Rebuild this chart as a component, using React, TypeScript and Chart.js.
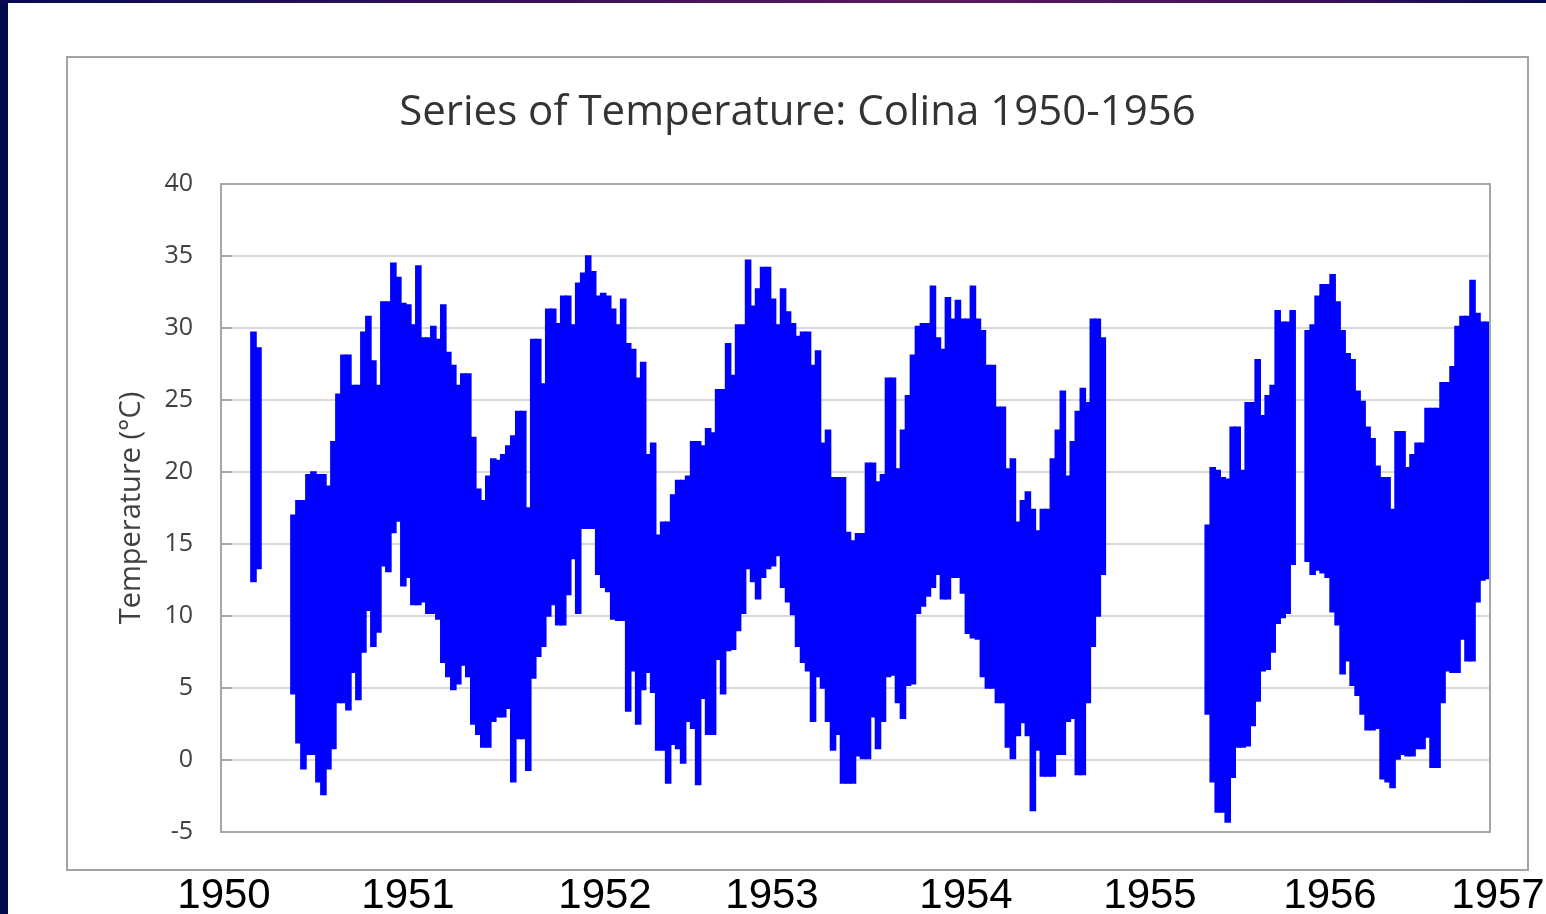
import React, { useEffect, useRef } from "react";
import { Chart, registerables } from "chart.js";

Chart.register(...registerables);

// ---------- data ----------
const chartTitle = "Series of Temperature: Colina 1950-1956";
const yAxisTitle = "Temperature (°C)";
const yMin = -5;
const yMax = 40;
const yStep = 5;
const yearLabels = ["1950", "1951", "1952", "1953", "1954", "1955", "1956", "1957"];

// upper envelope (daily maxima) per ~10-day period, null = no record
const highTemps: (number | null)[] = [
  null, null, null, null, null, null, 29.7, 28.6, null, null,
  null, null, null, null, 17.0, 18.0, 18.0, 19.8, 20.0, 19.8,
  19.8, 19.0, 22.1, 25.4, 28.1, 28.1, 26.0, 26.0, 29.7, 30.8,
  27.7, 26.0, 31.8, 31.8, 34.5, 33.5, 31.7, 31.6, 30.2, 34.3,
  29.3, 29.3, 30.1, 29.2, 31.6, 28.3, 27.4, 26.0, 26.8, 26.8,
  22.4, 18.8, 18.0, 19.7, 20.9, 20.8, 21.2, 21.8, 22.5, 24.2,
  24.2, 17.5, 29.2, 29.2, 26.1, 31.3, 31.3, 30.3, 32.2, 32.2,
  30.2, 33.1, 33.8, 35.0, 33.9, 32.2, 32.4, 32.2, 31.3, 30.2,
  32.0, 28.9, 28.5, 26.5, 27.6, 21.2, 22.0, 15.6, 16.5, 16.5,
  18.4, 19.4, 19.4, 19.7, 22.1, 22.1, 21.8, 23.0, 22.7, 25.7,
  25.7, 28.9, 26.7, 30.2, 30.2, 34.7, 31.5, 32.7, 34.2, 34.2,
  32.0, 30.2, 32.7, 31.1, 30.3, 29.4, 29.7, 29.7, 27.4, 28.4,
  22.0, 22.9, 19.6, 19.6, 19.6, 15.8, 15.2, 15.7, 15.7, 20.6,
  20.6, 19.3, 19.8, 26.5, 26.5, 20.2, 22.9, 25.3, 28.1, 30.1,
  30.3, 30.3, 32.9, 29.3, 28.5, 32.1, 30.6, 31.9, 30.6, 30.6,
  32.9, 30.6, 29.8, 27.4, 27.4, 24.5, 24.5, 20.2, 20.9, 16.5,
  18.0, 18.6, 17.4, 15.9, 17.4, 17.4, 20.9, 22.9, 25.6, 19.7,
  22.1, 24.2, 25.8, 24.8, 30.6, 30.6, 29.3, null, null, null,
  null, null, null, null, null, null, null, null, null, null,
  null, null, null, null, null, null, null, 16.3, 20.3, 20.1,
  19.6, 19.5, 23.1, 23.1, 20.1, 24.8, 24.8, 27.8, 23.9, 25.3,
  26.0, 31.2, 30.4, 30.4, 31.2, null, null, 29.8, 30.2, 32.2,
  33.0, 33.0, 33.7, 31.8, 29.8, 28.2, 27.8, 25.6, 24.9, 23.1,
  22.3, 20.4, 19.6, 19.6, 17.4, 22.8, 22.8, 20.3, 21.2, 22.0,
  22.0, 24.4, 24.4, 24.4, 26.2, 26.2, 27.3, 30.1, 30.8, 30.8,
  33.3, 31.0, 30.4, 30.4,
];

// lower envelope (daily minima) per period
const lowTemps: (number | null)[] = [
  null, null, null, null, null, null, 12.4, 13.3, null, null,
  null, null, null, null, 4.6, 1.2, -0.6, 0.4, 0.4, -1.5,
  -2.4, -0.6, 0.8, 4.0, 4.0, 3.5, 6.1, 4.2, 7.5, 10.4,
  7.9, 8.9, 13.5, 13.1, 15.8, 16.6, 12.1, 12.7, 10.8, 10.8,
  11.0, 10.2, 10.2, 9.8, 6.8, 5.8, 4.9, 5.3, 6.6, 5.8,
  2.5, 1.8, 0.9, 0.9, 2.7, 3.0, 3.0, 3.6, -1.5, 1.5,
  1.5, -0.7, 5.7, 7.2, 7.9, 10.0, 10.8, 9.4, 9.4, 11.5,
  14.0, 10.2, 16.1, 16.1, 16.1, 12.9, 12.0, 11.7, 9.8, 9.7,
  9.7, 3.4, 6.2, 2.5, 4.9, 6.1, 4.7, 0.7, 0.7, -1.6,
  1.1, 0.8, -0.2, 2.7, 2.2, -1.7, 4.3, 1.8, 1.8, 7.0,
  4.6, 7.6, 7.7, 9.0, 10.2, 13.3, 12.4, 11.2, 12.7, 13.3,
  13.5, 14.2, 12.0, 11.0, 10.1, 7.9, 6.8, 6.2, 2.7, 5.8,
  5.0, 2.7, 0.7, 1.8, -1.6, -1.6, -1.6, 0.3, 0.1, 0.1,
  3.0, 0.8, 2.7, 5.8, 5.9, 4.0, 2.9, 5.2, 5.3, 10.2,
  10.7, 11.4, 12.0, 12.9, 11.2, 11.2, 12.7, 12.7, 11.6, 8.8,
  8.5, 8.4, 5.8, 5.0, 5.0, 4.0, 4.0, 0.9, 0.1, 1.7,
  2.6, 1.7, -3.5, 0.7, -1.1, -1.1, -1.1, 0.4, 0.4, 2.7,
  2.9, -1.0, -1.0, 4.0, 7.9, 10.0, 12.9, null, null, null,
  null, null, null, null, null, null, null, null, null, null,
  null, null, null, null, null, null, null, 3.2, -1.5, -3.6,
  -3.6, -4.3, -1.2, 0.9, 0.9, 1.0, 2.4, 4.1, 6.2, 6.3,
  7.5, 9.5, 9.9, 10.2, 13.6, null, null, 13.8, 12.9, 13.2,
  13.0, 12.7, 10.3, 9.4, 6.0, 6.9, 5.2, 4.5, 3.2, 2.1,
  2.1, 2.2, -1.3, -1.5, -1.9, 0.0, 0.4, 0.3, 0.3, 0.8,
  0.8, 1.6, -0.5, -0.5, 4.0, 6.2, 6.1, 6.1, 8.4, 6.9,
  6.9, 11.0, 12.5, 12.6,
];

const periods = highTemps.map((_, i) => `P${i + 1}`);

// ---------- layout / style ----------
const W = 1546;
const H = 914;
const OUTER = { left: 67, top: 57, right: 1528, bottom: 870 };
const yearLabelCenters = [224, 408, 605, 772, 966, 1150, 1330, 1498];
const yearLabelBaseline = 908;
const SERIES_COLOR = "#0000ff";

const decorPlugin = {
  id: "decor",
  beforeDraw(chart: any) {
    const ctx = chart.ctx;
    ctx.save();
    ctx.fillStyle = "#ffffff";
    ctx.fillRect(0, 0, W, H);
    // left navy strip
    ctx.fillStyle = "#020b4c";
    ctx.fillRect(0, 0, 8, H);
    // top gradient rule
    const g = ctx.createLinearGradient(0, 0, W, 0);
    g.addColorStop(0, "#070b50");
    g.addColorStop(0.35, "#3a1257");
    g.addColorStop(0.6, "#5a1a5c");
    g.addColorStop(0.85, "#3d1258");
    g.addColorStop(1, "#020b4c");
    ctx.fillStyle = g;
    ctx.fillRect(0, 0, W, 3);
    // outer chart frame
    ctx.strokeStyle = "#a3a3a3";
    ctx.lineWidth = 2;
    ctx.strokeRect(OUTER.left, OUTER.top, OUTER.right - OUTER.left, OUTER.bottom - OUTER.top);
    ctx.restore();
  },
  afterDraw(chart: any) {
    const ctx = chart.ctx;
    const a = chart.chartArea;
    const ys = chart.scales.y;
    ctx.save();
    // inner tick marks
    ctx.strokeStyle = "#a6a6a6";
    ctx.lineWidth = 2;
    for (let v = yMin; v <= yMax; v += yStep) {
      const py = Math.round(ys.getPixelForValue(v));
      ctx.beginPath();
      ctx.moveTo(a.left, py);
      ctx.lineTo(a.left + 11, py);
      ctx.stroke();
    }
    // plot frame
    ctx.strokeRect(a.left, a.top, a.right - a.left, a.bottom - a.top);
    // year labels under the frame
    ctx.fillStyle = "#000000";
    ctx.font = "42px 'Liberation Sans', Arial, sans-serif";
    ctx.textAlign = "center";
    ctx.textBaseline = "alphabetic";
    yearLabels.forEach((t, i) => {
      ctx.fillText(t, yearLabelCenters[i], yearLabelBaseline);
    });
    ctx.restore();
  },
};

export default function App() {
  const ref = useRef<HTMLCanvasElement | null>(null);

  useEffect(() => {
    if (!ref.current) return;
    Chart.defaults.font.family = "'Open Sans', sans-serif";
    const chart = new Chart(ref.current, {
      type: "bar",
      data: {
        labels: periods,
        datasets: [
          {
            label: "Temperature",
            data: highTemps.map((h, i) =>
              h === null || lowTemps[i] === null ? null : [lowTemps[i] as number, h]
            ) as any,
            backgroundColor: SERIES_COLOR,
            borderColor: SERIES_COLOR,
            borderWidth: 0,
            inflateAmount: 0.8,
            barPercentage: 1,
            categoryPercentage: 1,
            yAxisID: "y",
          },
        ],
      },
      options: {
        responsive: false,
        maintainAspectRatio: false,
        animation: false,
        devicePixelRatio: 1,
        layout: { padding: { left: OUTER.left, right: W - OUTER.right, top: OUTER.top, bottom: 82 } },
        plugins: {
          legend: { display: false },
          tooltip: { enabled: false },
          title: {
            display: true,
            text: chartTitle,
            color: "#333333",
            font: { family: "'Open Sans', sans-serif", size: 42, weight: "normal", lineHeight: 1 },
            padding: { top: 35, bottom: 50 },
          },
        },
        scales: {
          x: { type: "category", display: false, offset: true },
          y: {
            type: "linear",
            position: "left",
            min: yMin,
            max: yMax,
            ticks: {
              stepSize: yStep,
              color: "#404040",
              padding: 28,
              font: { family: "'Open Sans', sans-serif", size: 25 },
            },
            grid: { color: "#d9d9d9", lineWidth: 2, drawTicks: false },
            border: { display: false },
            title: {
              display: true,
              text: yAxisTitle,
              color: "#404040",
              font: { family: "'Open Sans', sans-serif", size: 29, lineHeight: 1.2 },
              padding: { top: 47, bottom: 0 },
            },
            afterFit(s: any) {
              s.width = 221 - OUTER.left;
              s.paddingTop = 0;
              s.paddingBottom = 0;
            },
          },
          yRight: {
            type: "linear",
            position: "right",
            display: true,
            grid: { display: false, drawTicks: false },
            ticks: { display: false },
            border: { display: false },
            afterFit(s: any) {
              s.width = OUTER.right - 1490;
              s.paddingTop = 0;
              s.paddingBottom = 0;
            },
          },
        },
      } as any,
      plugins: [decorPlugin],
    });
    return () => chart.destroy();
  }, []);

  return (
    <div style={{ position: "fixed", left: 0, top: 0, width: W, height: H, background: "#fff" }}>
      <canvas ref={ref} width={W} height={H} style={{ display: "block", width: W, height: H }} />
    </div>
  );
}
